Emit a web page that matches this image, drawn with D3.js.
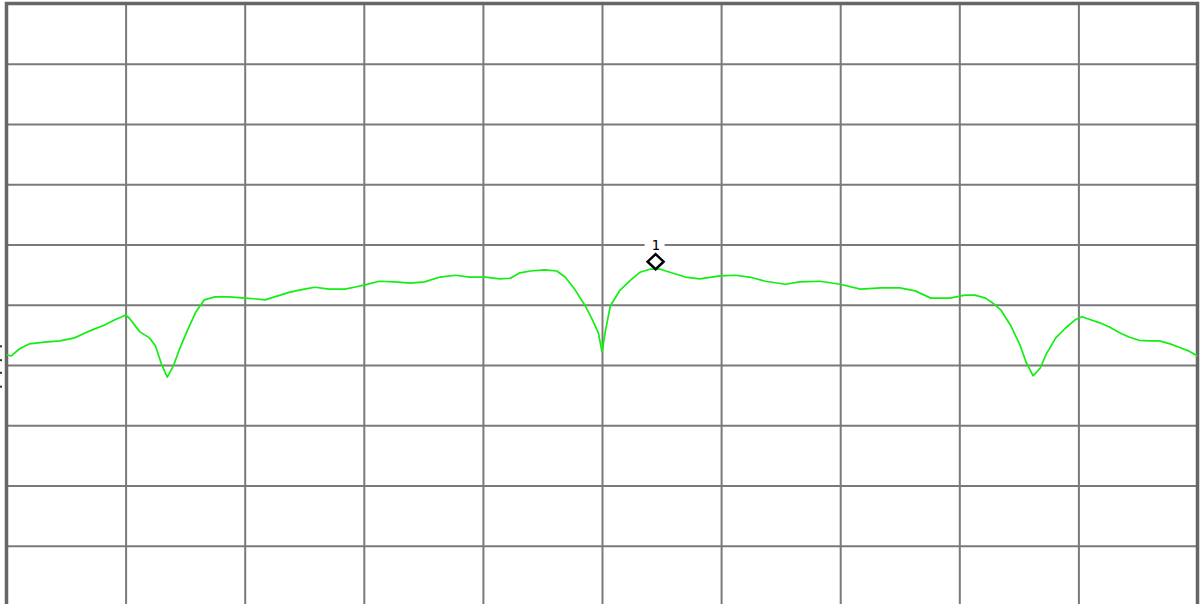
<!DOCTYPE html>
<html>
<head>
<meta charset="utf-8">
<script src="https://cdn.jsdelivr.net/npm/d3@7.9.0/dist/d3.min.js"></script>
<style>
  html, body { margin: 0; padding: 0; background: #fff; }
  svg { display: block; }
</style>
</head>
<body>
<div id="chart"></div>
<script>
// trace frequencies (MHz) and levels (dBm)
const freqs = [
  2400.0, 2400.4, 2401.1, 2401.9, 2403.2, 2404.5, 2405.7, 2406.6, 2407.4, 2408.2,
  2409.1, 2409.7, 2410.0, 2410.3, 2411.2, 2412.0, 2412.5, 2413.0, 2413.5, 2414.0,
  2414.5, 2415.2, 2415.9, 2416.6, 2417.5, 2418.7, 2420.0, 2420.8, 2421.7, 2422.5,
  2423.8, 2425.0, 2425.9, 2427.1, 2428.4, 2429.2, 2430.1, 2431.3, 2432.6, 2433.9,
  2435.1, 2436.4, 2437.7, 2438.9, 2440.2, 2441.4, 2442.3, 2443.1, 2444.0, 2445.2,
  2446.2, 2446.9, 2447.7, 2448.6, 2449.2, 2449.7, 2450.0, 2450.3, 2450.7, 2451.5,
  2452.4, 2453.2, 2454.0, 2454.9, 2455.7, 2457.0, 2458.2, 2459.9, 2461.2, 2462.4,
  2463.7, 2465.4, 2466.6, 2468.3, 2470.0, 2471.7, 2473.4, 2475.0, 2476.3, 2477.6,
  2479.2, 2480.5, 2481.3, 2482.2, 2482.8, 2483.5, 2484.3, 2485.1, 2485.6, 2486.2,
  2486.8, 2487.3, 2488.1, 2488.9, 2489.8, 2490.3, 2490.9, 2491.8, 2492.6, 2493.5,
  2494.3, 2495.1, 2496.0, 2496.8, 2497.7, 2498.5, 2499.3, 2500.0
];
const levels = [
  -58.3, -58.5, -57.3, -56.5, -56.2, -56.0, -55.5, -54.7, -54.0, -53.4,
  -52.5, -52.0, -51.7, -52.2, -54.5, -55.5, -56.8, -59.8, -62.0, -60.2,
  -57.5, -54.2, -51.2, -49.2, -48.7, -48.7, -48.9, -49.0, -49.2, -48.7,
  -47.9, -47.4, -47.1, -47.4, -47.4, -47.1, -46.7, -46.1, -46.2, -46.4,
  -46.2, -45.4, -45.1, -45.4, -45.4, -45.7, -45.6, -44.7, -44.4, -44.2,
  -44.4, -45.4, -47.4, -50.2, -52.5, -54.7, -57.8, -54.2, -50.2, -47.6,
  -45.9, -44.6, -44.1, -44.1, -44.6, -45.4, -45.7, -45.2, -45.1, -45.4,
  -46.1, -46.6, -46.2, -46.1, -46.6, -47.4, -47.2, -47.2, -47.7, -48.9,
  -48.9, -48.4, -48.4, -48.9, -49.7, -50.9, -53.4, -56.7, -59.5, -61.8,
  -60.5, -58.2, -55.5, -53.9, -52.4, -52.0, -52.4, -53.0, -53.7, -54.7,
  -55.4, -55.9, -56.0, -56.0, -56.5, -57.1, -57.7, -58.5
];

// grid divisions
const freqDivs = [2400, 2410, 2420, 2430, 2440, 2450, 2460, 2470, 2480, 2490, 2500];
const levelDivs = [0, -10, -20, -30, -40, -50, -60, -70, -80, -90, -100];

// marker 1
const markerLabel = '1';
const markerFreq = 2454.5;
const markerLevel = -44.1;

// little marks left of the frame
const refMarks = [-56.9, -59.2, -61.3, -63.6];

const width = 1200, height = 604;
const plot = { left: 6.5, right: 1197.5, top: 3.5, bottom: 606 };

const svg = d3.select('#chart').append('svg')
  .attr('width', width)
  .attr('height', height);

const x = d3.scaleLinear()
  .domain([2400, 2500])
  .range([plot.left, plot.right]);

const y = d3.scaleLinear()
  .domain([-100, 0])
  .range([plot.bottom, plot.top]);

// vertical grid
const xGrid = svg.append('g')
  .attr('transform', `translate(0,${plot.bottom})`)
  .call(d3.axisBottom(x).tickValues(freqDivs.slice(1, -1)).tickFormat('')
    .tickSize(-(plot.bottom - plot.top)).tickSizeOuter(0));
xGrid.select('.domain').remove();
xGrid.selectAll('line').attr('stroke', '#7a7a7a').attr('stroke-width', 2);

// horizontal grid
const yGrid = svg.append('g')
  .attr('transform', `translate(${plot.left},0)`)
  .call(d3.axisLeft(y).tickValues(levelDivs.slice(1, -1)).tickFormat('')
    .tickSize(-(plot.right - plot.left)).tickSizeOuter(0));
yGrid.select('.domain').remove();
yGrid.selectAll('line').attr('stroke', '#7a7a7a').attr('stroke-width', 2);

// frame
svg.append('rect')
  .attr('x', plot.left).attr('y', plot.top)
  .attr('width', plot.right - plot.left).attr('height', plot.bottom - plot.top)
  .attr('fill', 'none')
  .attr('stroke', '#666')
  .attr('stroke-width', 3.5);

// reference marks on the left
svg.append('g').selectAll('rect')
  .data(refMarks)
  .join('rect')
  .attr('x', 0).attr('y', d => y(d) - 1)
  .attr('width', 2).attr('height', 2)
  .attr('fill', '#333');

// trace
const pts = freqs.map((f, i) => [f, levels[i]]);
svg.append('path')
  .datum(pts)
  .attr('fill', 'none')
  .attr('stroke', '#12ee12')
  .attr('stroke-width', 1.7)
  .attr('stroke-linejoin', 'round')
  .attr('d', d3.line().x(d => x(d[0])).y(d => y(d[1])));

// marker diamond sits on the trace
const mx = x(markerFreq), my = y(markerLevel);
const hw = 8, hh = 7.5;
svg.append('path')
  .attr('d', `M${mx},${my - 2 * hh} L${mx + hw},${my - hh} L${mx},${my} L${mx - hw},${my - hh} Z`)
  .attr('fill', 'none')
  .attr('stroke', '#000')
  .attr('stroke-width', 2.5)
  .attr('stroke-linejoin', 'miter');

// marker label, blanking the grid line behind it
const ly = y(-40);
svg.append('rect')
  .attr('x', mx - 11).attr('y', ly - 9)
  .attr('width', 20).attr('height', 15)
  .attr('fill', '#fff');
svg.append('text')
  .attr('x', mx).attr('y', ly + 5)
  .attr('text-anchor', 'middle')
  .attr('font-family', 'DejaVu Sans Mono, monospace')
  .attr('font-size', 14)
  .attr('fill', '#000')
  .text(markerLabel);
</script>
</body>
</html>
